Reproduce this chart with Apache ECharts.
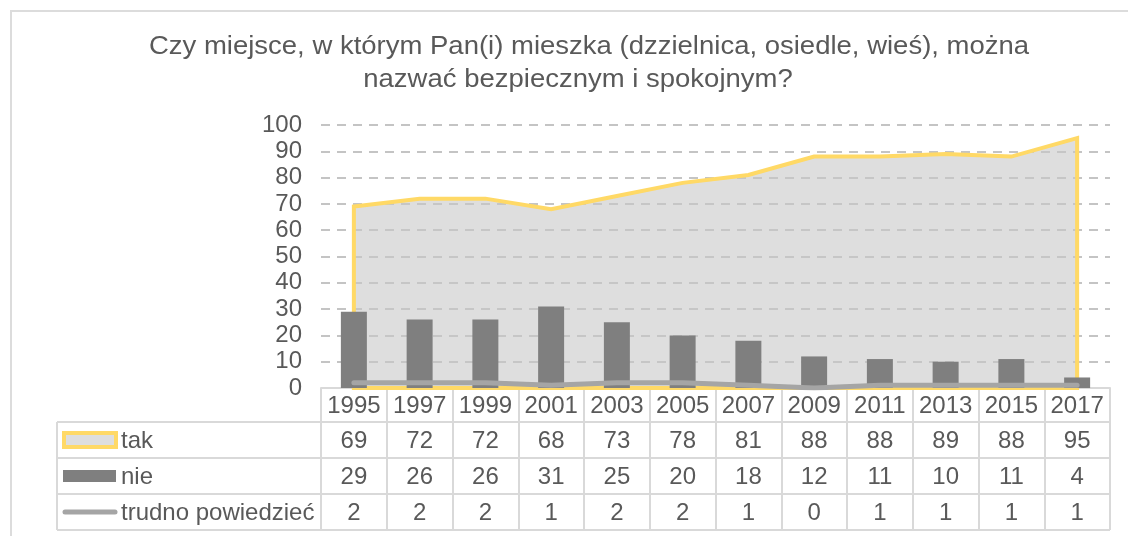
<!DOCTYPE html>
<html>
<head>
<meta charset="utf-8">
<script src="https://cdn.jsdelivr.net/npm/echarts@6/dist/echarts.min.js"></script>
<style>
  html, body { margin: 0; padding: 0; background: #fff; }
  #chart { width: 1128px; height: 536px; }
</style>
</head>
<body>
<div id="chart"></div>
<script>
// Survey years and answer shares (%)
const years = ['1995', '1997', '1999', '2001', '2003', '2005', '2007', '2009', '2011', '2013', '2015', '2017'];
const tak = [69, 72, 72, 68, 73, 78, 81, 88, 88, 89, 88, 95];
const nie = [29, 26, 26, 31, 25, 20, 18, 12, 11, 10, 11, 4];
const trudno = [2, 2, 2, 1, 2, 2, 1, 0, 1, 1, 1, 1];
const seriesNames = ['tak', 'nie', 'trudno powiedzieć'];
const titleLines = ['Czy miejsce, w którym Pan(i) mieszka (dzzielnica, osiedle, wieś), można', 'nazwać bezpiecznym i spokojnym?'];

const FONT = '"Liberation Sans", Arial, sans-serif';
const TEXT = '#595959';
const LINE = '#d9d9d9';
const YELLOW = '#ffd966';

// Layout of the plot and the data table below it
const GRID = { left: 321, right: 18, top: 125, bottom: 148 };
const TABLE_LEFT = 57;
const TABLE_RIGHT = 1110;
const ROW_TOPS = [422, 458, 494];
const ROW_H = 36;

const chart = echarts.init(document.getElementById('chart'), null, { renderer: 'canvas' });

const option = {
  animation: false,
  textStyle: { fontFamily: FONT },
  grid: GRID,
  xAxis: {
    type: 'category',
    data: years,
    boundaryGap: true,
    axisLine: { show: true, lineStyle: { color: LINE, width: 2 } },
    axisTick: { show: true, interval: 0, length: 142, lineStyle: { color: LINE, width: 2 } },
    axisLabel: { interval: 0, margin: 6, fontSize: 24, color: TEXT, fontFamily: FONT },
    splitLine: { show: false }
  },
  yAxis: {
    type: 'value',
    min: 0, max: 100, interval: 10,
    axisLine: { show: false },
    axisTick: { show: false },
    axisLabel: { fontSize: 24, color: TEXT, margin: 19, fontFamily: FONT },
    splitLine: { lineStyle: { color: '#c4c4c4', width: 2, type: [9, 7] } }
  },
  series: [
    {
      // "tak" drawn as a closed area with a yellow outline all round
      name: seriesNames[0],
      type: 'custom',
      z: 1,
      data: tak,
      renderItem: function (params, api) {
        if (params.dataIndex !== 0) return null;
        const pts = tak.map(function (v, i) { return api.coord([i, v]); });
        pts.push(api.coord([tak.length - 1, 0]));
        pts.push(api.coord([0, 0]));
        return {
          type: 'polygon',
          shape: { points: pts },
          style: { fill: 'rgba(200,200,200,0.6)', stroke: YELLOW, lineWidth: 4, lineJoin: 'miter' }
        };
      }
    },
    {
      name: seriesNames[1],
      type: 'bar',
      z: 2,
      data: nie,
      barWidth: 26,
      itemStyle: { color: '#7f7f7f' }
    },
    {
      name: seriesNames[2],
      type: 'line',
      z: 3,
      data: trudno,
      symbol: 'none',
      lineStyle: { color: '#a5a5a5', width: 5, cap: 'round' }
    }
  ]
};

chart.setOption(option);

// Data table: row lines, legend keys, labels and values under each category
function buildTable() {
  const g = [];
  const xs = years.map(function (y, i) { return chart.convertToPixel({ xAxisIndex: 0 }, i); });
  const tableBottom = ROW_TOPS[ROW_TOPS.length - 1] + ROW_H;

  // outer frame of the chart
  g.push({ type: 'rect', shape: { x: 11, y: 11, width: 1200, height: 600 },
    style: { fill: null, stroke: '#dcdcdc', lineWidth: 2 }, z: 0, silent: true });

  // title, two centred lines in a slightly wide face
  const titlePos = [[589, 47], [578, 80]];
  titleLines.forEach(function (t, k) {
    g.push({ type: 'text', x: titlePos[k][0], y: titlePos[k][1], scaleX: 1.1,
      style: { text: t, x: 0, y: 0, fontSize: 25, fontFamily: FONT, fill: TEXT,
        align: 'center', verticalAlign: 'middle' }, z: 10 });
  });

  // horizontal row lines
  ROW_TOPS.concat([tableBottom]).forEach(function (y) {
    g.push({ type: 'line', shape: { x1: TABLE_LEFT, y1: y, x2: TABLE_RIGHT, y2: y },
      style: { stroke: LINE, lineWidth: 2 }, z: 10 });
  });
  // left edge of legend column
  g.push({ type: 'line', shape: { x1: TABLE_LEFT, y1: ROW_TOPS[0], x2: TABLE_LEFT, y2: tableBottom },
    style: { stroke: LINE, lineWidth: 2 }, z: 10 });

  const rows = [tak, nie, trudno];
  rows.forEach(function (vals, r) {
    const cy = ROW_TOPS[r] + ROW_H / 2;
    vals.forEach(function (v, i) {
      g.push({ type: 'text', x: xs[i], y: cy + 1, style: { text: String(v), fontSize: 24, fontFamily: FONT,
        fill: TEXT, align: 'center', verticalAlign: 'middle' }, z: 10 });
    });
    g.push({ type: 'text', x: 121, y: cy + 1, style: { text: seriesNames[r], fontSize: 24, fontFamily: FONT,
      fill: TEXT, align: 'left', verticalAlign: 'middle' }, z: 10 });
  });

  // legend keys
  const ty = ROW_TOPS[0] + ROW_H / 2;
  g.push({ type: 'rect', shape: { x: 64, y: ty - 7, width: 52, height: 14 },
    style: { fill: '#dedede', stroke: YELLOW, lineWidth: 4 }, z: 10 });
  const ny = ROW_TOPS[1] + ROW_H / 2;
  g.push({ type: 'rect', shape: { x: 63, y: ny - 6, width: 53, height: 12 },
    style: { fill: '#7f7f7f' }, z: 10 });
  const dy = ROW_TOPS[2] + ROW_H / 2;
  g.push({ type: 'line', shape: { x1: 65, y1: dy, x2: 115, y2: dy },
    style: { stroke: '#a5a5a5', lineWidth: 5, lineCap: 'round' }, z: 10 });

  chart.setOption({ graphic: g });
}
buildTable();
</script>
</body>
</html>
